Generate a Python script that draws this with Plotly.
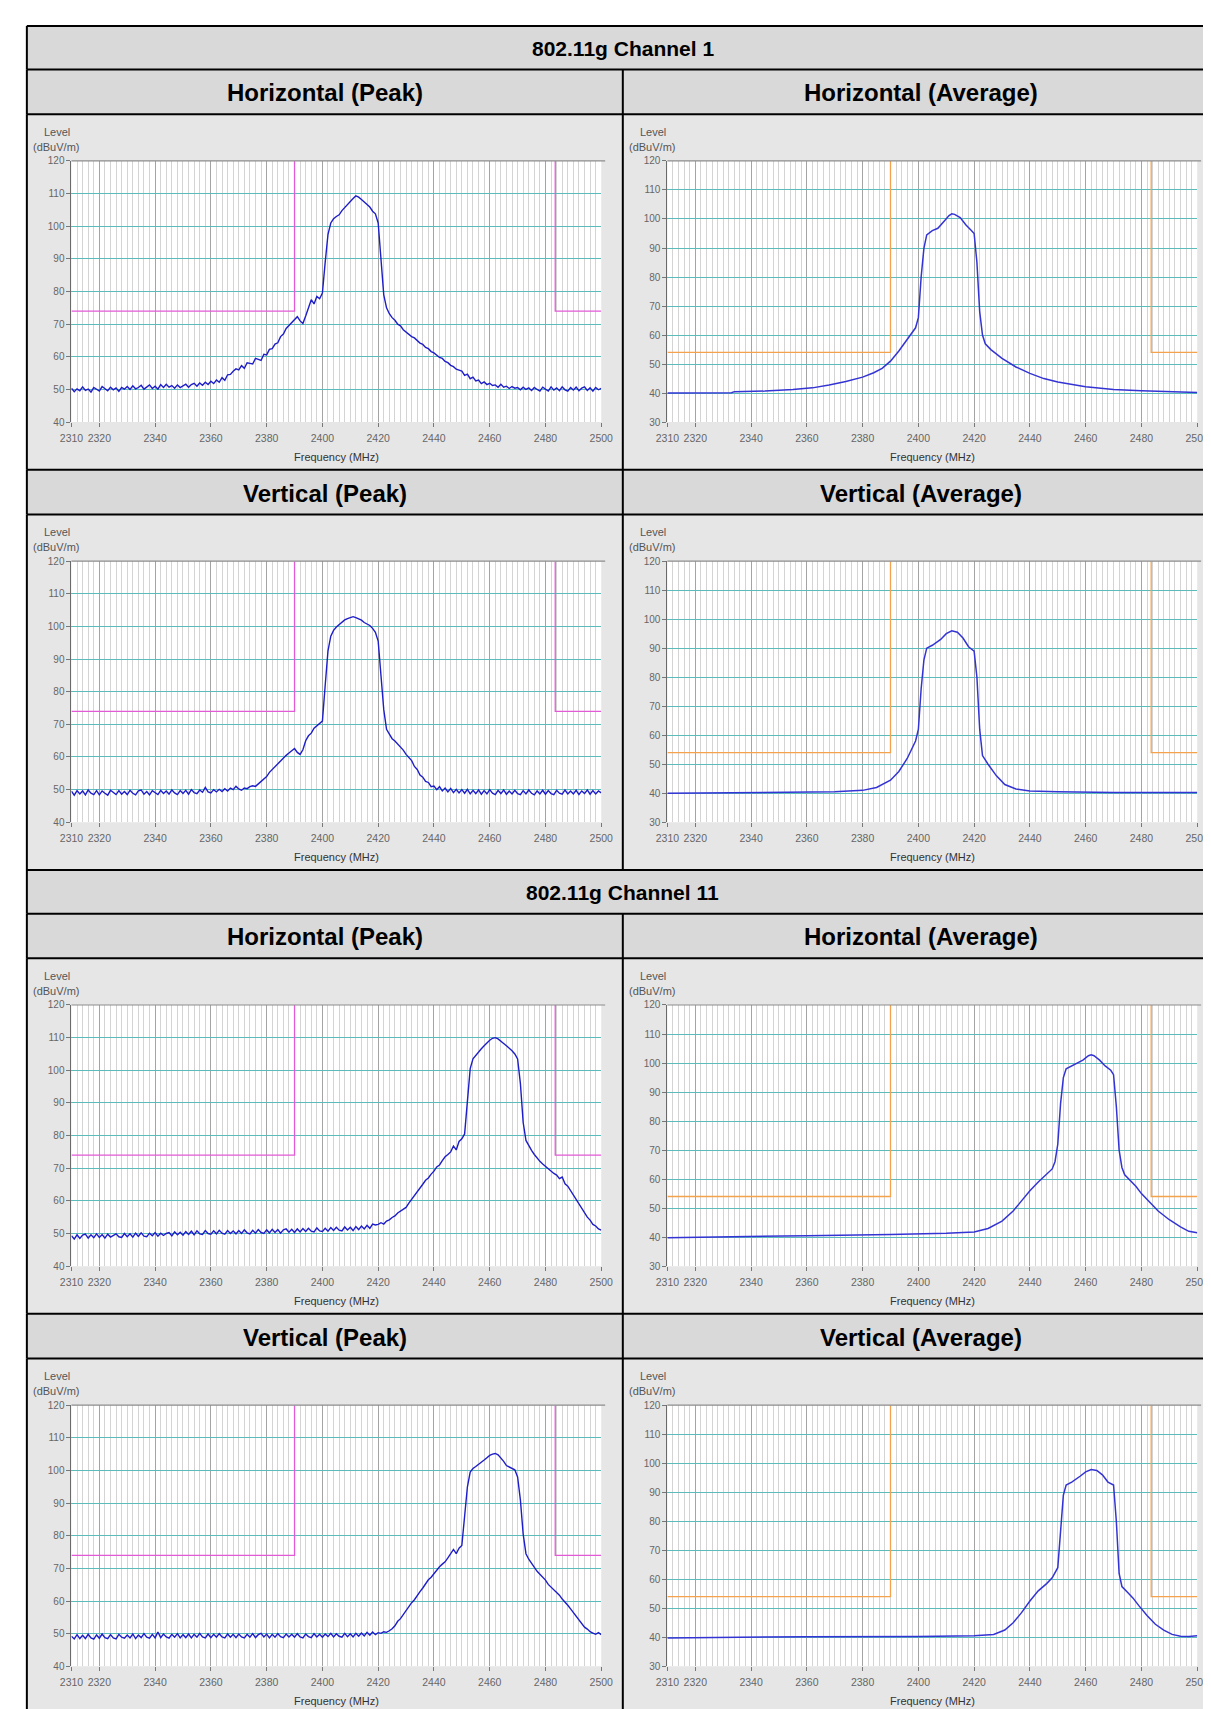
import plotly.graph_objects as go

# ---------------- data ----------------
SWEEP_START_MHZ = 2310
SWEEP_STOP_MHZ = 2500
FREQ = list(range(SWEEP_START_MHZ, SWEEP_STOP_MHZ + 1))  # 1 MHz sweep points of the peak traces

X_TICKS = [2310, 2320, 2340, 2360, 2380, 2400, 2420, 2440, 2460, 2480, 2500]
Y_TICKS_PEAK = [40, 50, 60, 70, 80, 90, 100, 110, 120]
Y_TICKS_AVG = [30, 40, 50, 60, 70, 80, 90, 100, 110, 120]
Y_RANGE_PEAK = [40, 120]
Y_RANGE_AVG = [30, 120]

BAND_EDGE_LOW = 2390
BAND_EDGE_HIGH = 2483.5
PEAK_LIMIT = 74
AVG_LIMIT = 54

CHANNEL_TITLES = ["802.11g Channel 1", "802.11g Channel 11"]
PANEL_TITLES = [["Horizontal (Peak)", "Horizontal (Average)"],
                ["Vertical (Peak)", "Vertical (Average)"]]

CH1_H_PEAK = [
    50.4, 49.3, 50.2, 49.6, 50.8, 49.7, 50.1, 49.2, 50.6, 50.0, 49.5, 50.9, 50.2, 49.6, 50.7, 49.9, 50.5, 49.4, 50.6, 50.1,
    50.9, 50.0, 51.1, 50.2, 50.6, 51.3, 50.1, 50.9, 51.4, 50.3, 51.0, 50.1, 51.5, 50.6, 51.6, 50.7, 51.2, 50.4, 51.4, 50.6,
    51.2, 51.6, 50.7, 51.5, 51.9, 51.0, 52.0, 51.3, 52.2, 51.5, 52.5, 51.8, 52.9, 52.2, 53.6, 52.8, 54.5, 54.6, 55.6, 56.3,
    56.0, 57.3, 56.5, 58.2, 58.0, 57.8, 59.5, 59.3, 58.9, 60.8, 60.6, 62.3, 62.5, 63.9, 64.3, 66.2, 67.0, 68.7, 69.6, 70.8,
    71.5, 72.3, 71.0, 70.2, 72.5, 74.8, 77.5, 76.2, 78.5, 77.8,
    79.5, 89.0, 97.5, 101.0, 102.3, 103.0, 103.5, 104.8, 105.8, 106.6,
    107.5, 108.5, 109.3, 108.9, 108.2, 107.4, 106.8, 105.9, 104.6, 103.8,
    101.0, 90.5, 79.0, 75.0, 73.2, 72.0, 71.2, 70.0, 69.5, 68.3,
    67.6, 67.0, 66.2, 65.8, 64.9, 64.2, 63.8, 62.9, 62.5, 61.6, 61.2, 60.5, 59.8, 59.5, 58.6, 58.2, 57.4, 57.0, 56.2, 55.9,
    55.6, 54.3, 54.7, 53.3, 53.8, 52.6, 52.9, 51.8, 52.3, 51.5, 51.9, 51.2, 51.4, 50.7, 51.6, 50.7, 51.0, 50.3, 50.9, 50.4,
    50.6, 49.9, 50.7, 50.0, 50.5, 49.7, 50.6, 50.0, 49.5, 50.7, 50.1, 49.5, 50.8, 49.8, 50.5, 49.6, 50.8, 49.9, 49.5, 50.6,
    49.8, 50.7, 49.6, 50.4, 50.8, 49.7, 50.5, 49.5, 50.6, 49.9, 50.3,
]

CH1_V_PEAK = [
    49.5, 48.3, 49.7, 48.7, 49.6, 48.4, 49.9, 48.9, 48.5, 49.7, 48.4, 49.6, 48.9, 48.3, 49.8, 49.0, 48.5, 49.7, 48.6, 49.4,
    48.5, 49.8, 48.9, 48.4, 49.6, 49.9, 48.6, 49.4, 48.4, 49.7, 49.0, 48.5, 49.8, 48.8, 49.6, 48.6, 49.9, 49.0, 48.5, 49.7,
    48.8, 49.8, 48.6, 50.0, 49.1, 48.8, 49.9, 49.2, 50.7, 49.3, 49.0, 50.0, 49.3, 50.1, 49.4, 50.3, 49.6, 50.5, 50.0, 51.0,
    50.2, 49.8, 50.5, 50.3, 50.9, 51.2, 51.0, 51.8, 52.5, 53.4, 54.0, 55.3, 56.2, 57.0, 57.9, 58.6, 59.8, 60.5, 61.2, 62.0,
    62.6, 61.4, 60.8, 62.2, 65.0, 66.5, 67.3, 68.8, 69.6, 70.5,
    71.0, 82.0, 92.5, 97.0, 98.8, 99.8, 100.5, 101.3, 102.0, 102.4,
    102.8, 103.0, 102.7, 102.3, 101.9, 101.2, 100.8, 100.3, 99.4, 98.2,
    95.5, 85.0, 74.5, 68.5, 66.8, 65.6, 64.9, 64.0, 62.8, 62.1,
    60.8, 59.7, 58.9, 57.1, 56.2, 54.5, 53.8, 52.5, 52.2, 50.9, 51.1, 50.0, 50.9, 49.6, 50.5, 49.3, 50.4, 49.1, 50.1, 49.0,
    50.0, 48.9, 50.1, 48.7, 49.8, 48.8, 49.9, 48.6, 49.7, 48.7, 50.0, 48.9, 48.5, 49.8, 48.8, 49.9, 48.6, 49.6, 48.7, 49.8,
    48.8, 48.5, 49.7, 48.7, 49.9, 48.9, 48.4, 49.6, 48.7, 49.8, 48.6, 49.7, 48.8, 48.5, 49.8, 48.9, 48.6, 49.9, 48.7, 49.6,
    48.7, 49.8, 48.5, 49.6, 48.8, 49.9, 48.6, 49.7, 48.7, 49.6, 49.0,
]

CH11_H_PEAK = [
    49.3, 48.3, 49.6, 48.5, 49.5, 49.8, 48.6, 49.6, 48.7, 49.9, 48.8, 49.7, 48.6, 49.8, 48.9, 49.3, 49.9, 49.0, 48.8, 50.0,
    49.0, 49.9, 48.9, 50.1, 49.1, 50.2, 49.2, 49.0, 50.1, 49.3, 50.3, 49.2, 50.1, 49.4, 50.0, 50.3, 49.3, 50.5, 49.6, 50.4,
    49.5, 50.6, 49.7, 50.7, 49.6, 50.8, 49.9, 49.7, 50.9, 50.0, 49.8, 50.8, 49.9, 51.0, 50.1, 49.8, 50.9, 50.0, 50.8, 49.9,
    50.9, 50.0, 51.1, 50.2, 49.9, 51.0, 50.1, 51.2, 50.3, 50.0, 51.1, 50.2, 51.3, 50.3, 51.2, 50.1, 51.1, 51.4, 50.4, 51.3,
    50.3, 51.4, 50.5, 51.5, 50.6, 51.6, 50.7, 50.5, 51.7, 50.8,
    50.6, 51.6, 50.7, 51.8, 50.9, 51.9, 51.0, 50.8, 52.0, 51.1,
    51.9, 50.9, 52.1, 51.2, 52.3, 51.4, 52.5, 51.6, 52.9, 52.6,
    52.8, 53.3, 52.9, 53.8, 54.2, 54.9, 55.4, 56.3, 56.8, 57.4,
    58.0, 59.3, 60.4, 61.8, 62.6, 64.0, 65.1, 66.3, 67.0, 68.2, 69.1, 70.4, 71.0, 72.3, 73.5, 74.2, 75.0, 76.8, 75.6, 78.2,
    79.0, 80.5, 92.0, 100.5, 103.5, 104.6, 105.5, 106.6, 107.5, 108.4, 109.2, 109.8, 110.0, 109.6, 109.0, 108.2, 107.5, 106.8, 106.0, 105.0,
    103.5, 96.0, 84.0, 78.5, 76.8, 75.5, 74.2, 73.0, 72.1, 71.3, 70.5, 69.8, 69.0, 68.4, 67.9, 66.8, 67.3, 65.2, 64.5, 63.1,
    61.8, 60.5, 59.2, 57.6, 56.3, 55.0, 54.1, 52.8, 52.3, 51.4, 51.0,
]

CH11_V_PEAK = [
    49.2, 48.4, 49.7, 48.5, 49.5, 48.5, 49.8, 48.7, 48.3, 49.6, 48.6, 49.9, 48.8, 48.5, 49.7, 48.7, 48.4, 49.8, 48.9, 48.6,
    49.6, 48.7, 49.9, 48.5, 49.6, 48.8, 50.0, 48.9, 48.6, 49.8, 48.7, 50.5, 48.8, 49.9, 49.0, 48.6, 49.8, 48.9, 50.0, 48.7,
    49.7, 48.8, 49.9, 48.7, 49.8, 48.9, 50.1, 49.0, 48.7, 49.9, 48.8, 49.8, 48.9, 50.0, 49.0, 48.7, 49.9, 48.9, 49.8, 48.8,
    49.9, 49.0, 48.7, 49.8, 48.9, 50.0, 48.8, 49.7, 50.1, 49.0, 49.9, 48.7, 49.8, 48.9, 50.0, 49.1, 48.8, 49.9, 49.0, 49.8,
    48.9, 50.0, 49.0, 48.7, 49.9, 49.1, 48.8, 50.0, 49.0, 49.8,
    48.9, 49.9, 49.1, 50.1, 49.0, 50.0, 49.2, 48.9, 50.1, 49.1,
    50.0, 49.0, 50.1, 49.2, 50.2, 49.3, 50.4, 49.5, 50.5, 49.7,
    50.3, 50.1, 50.6, 50.4, 50.9, 51.5, 52.4, 53.8, 54.6, 55.9,
    57.0, 58.3, 59.5, 60.4, 61.8, 62.9, 64.0, 65.2, 66.5, 67.3, 68.4, 69.2, 70.5, 71.3, 72.0, 73.2, 74.6, 75.8, 74.5, 76.2,
    77.0, 85.0, 95.0, 99.5, 100.6, 101.2, 101.8, 102.4, 103.2, 103.9, 104.6, 105.0, 105.2, 104.8, 103.9, 102.8, 101.5, 101.0, 100.6, 100.2,
    98.0, 91.0, 80.5, 74.5, 72.8, 71.5, 70.4, 69.1, 68.2, 67.3, 66.4, 65.1, 64.3, 63.6, 62.5, 61.8, 60.6, 59.8, 58.7, 57.6,
    56.5, 55.4, 54.3, 53.2, 52.0, 51.4, 50.6, 50.2, 49.8, 50.3, 49.7,
]

CH1_H_AVG_F = [2310, 2320, 2333, 2334, 2345, 2355, 2362, 2368, 2374, 2380, 2384, 2387, 2390, 2393, 2396, 2398,
               2399, 2400, 2401, 2402, 2403, 2405, 2407, 2409, 2411, 2412, 2413, 2415, 2417, 2419, 2420, 2421,
               2422, 2423, 2424, 2426, 2430, 2435, 2440, 2445, 2450, 2460, 2470, 2480, 2490, 2500]
CH1_H_AVG_L = [40.0, 40.0, 40.1, 40.5, 40.7, 41.2, 41.8, 42.8, 44.0, 45.5, 47.0, 48.5, 51.0, 54.5, 58.5, 61.0,
               62.5, 66.0, 80.0, 90.0, 94.5, 96.0, 96.8, 99.0, 101.2, 101.8, 101.6, 100.5, 98.0, 96.0, 95.0, 85.0,
               68.0, 60.0, 57.0, 55.0, 52.0, 49.0, 46.8, 45.0, 43.8, 42.2, 41.2, 40.8, 40.4, 40.2]

CH1_V_AVG_F = [2310, 2330, 2350, 2370, 2380, 2385, 2390, 2393, 2396, 2398, 2399, 2400, 2401, 2402, 2403, 2405,
               2408, 2410, 2412, 2414, 2416, 2418, 2420, 2421, 2422, 2423, 2425, 2428, 2431, 2435, 2440, 2450,
               2470, 2500]
CH1_V_AVG_L = [40.0, 40.1, 40.3, 40.5, 41.0, 42.0, 44.5, 47.5, 52.0, 56.0, 58.0, 62.0, 76.0, 86.0, 90.0, 91.0,
               93.0, 95.0, 96.0, 95.5, 93.5, 90.5, 89.0, 80.0, 62.0, 53.0, 50.0, 46.0, 43.0, 41.5, 40.8, 40.5,
               40.3, 40.3]

CH11_H_AVG_F = [2310, 2330, 2360, 2390, 2410, 2420, 2425, 2430, 2434, 2437, 2440, 2443, 2446, 2448, 2449, 2450,
                2451, 2452, 2453, 2455, 2457, 2459, 2461, 2462, 2463, 2465, 2467, 2469, 2470, 2471, 2472, 2473,
                2474, 2476, 2478, 2480, 2483, 2486, 2490, 2494, 2497, 2500]
CH11_H_AVG_L = [39.8, 40.0, 40.5, 40.9, 41.3, 41.8, 43.0, 45.5, 49.0, 52.5, 56.0, 59.0, 61.5, 63.5, 66.0, 72.0,
                86.0, 95.0, 98.0, 99.0, 99.8, 101.0, 102.5, 102.8, 102.5, 101.0, 99.0, 97.5, 96.0, 85.0, 70.0, 64.0,
                61.5, 59.5, 57.5, 55.0, 52.0, 49.0, 46.0, 43.5, 42.0, 41.5]

CH11_V_AVG_F = [2310, 2330, 2360, 2400, 2420, 2427, 2431, 2434, 2437, 2440, 2443, 2446, 2448, 2450, 2451, 2452,
                2453, 2455, 2458, 2460, 2462, 2464, 2466, 2468, 2470, 2471, 2472, 2473, 2475, 2477, 2479, 2482,
                2485, 2488, 2491, 2494, 2497, 2500]
CH11_V_AVG_L = [39.8, 40.0, 40.2, 40.3, 40.5, 41.0, 42.5, 45.0, 48.5, 52.5, 56.0, 58.5, 60.5, 64.0, 78.0, 89.0,
                92.5, 93.5, 95.5, 97.0, 97.8, 97.5, 96.0, 93.5, 92.5, 80.0, 62.0, 57.5, 55.5, 53.5, 51.0, 47.5,
                44.5, 42.5, 41.0, 40.4, 40.3, 40.5]

PEAK_DATA = [[CH1_H_PEAK, CH1_V_PEAK], [CH11_H_PEAK, CH11_V_PEAK]]
AVG_DATA = [[(CH1_H_AVG_F, CH1_H_AVG_L), (CH1_V_AVG_F, CH1_V_AVG_L)],
            [(CH11_H_AVG_F, CH11_H_AVG_L), (CH11_V_AVG_F, CH11_V_AVG_L)]]

# ---------------- geometry / style ----------------
W, H = 1211, 1709
X_LEFT, X_MID, X_RIGHT = 7, 615, 1223
TOP = 12
TITLE_H, HEAD_H, PLOT_H = 44, 45, 358
PA_X0, PA_X1 = 45.5, 586      # plot-area offsets inside a cell
PA_Y0, PA_Y1 = 47, 310

HEAD_BG = "#d9d9d9"
CELL_BG = "#e6e6e6"
BORDER = "#000000"
TRACE = "#1e1ec8"
TRACE_AVG = "#3434d4"
PEAK_LIM_COLOR = "#e25ad6"
AVG_LIM_COLOR = "#f4a24c"
FONT = "Liberation Sans, Arial, sans-serif"


def fx(x):
    return x / W


def fy(y):
    return 1 - y / H


fig = go.Figure()
shapes = []
annotations = []


def rect(x0, y0, x1, y1, color):
    shapes.append(dict(type="rect", xref="paper", yref="paper", x0=fx(x0), x1=fx(x1),
                       y0=fy(y1), y1=fy(y0), fillcolor=color, line=dict(width=0), layer="below"))


def hline(x0, x1, y, color=BORDER, width=2):
    shapes.append(dict(type="line", xref="paper", yref="paper", x0=fx(x0), x1=fx(x1),
                       y0=fy(y), y1=fy(y), line=dict(color=color, width=width), layer="above"))


def vline(x, y0, y1, color=BORDER, width=2):
    shapes.append(dict(type="line", xref="paper", yref="paper", x0=fx(x), x1=fx(x),
                       y0=fy(y0), y1=fy(y1), line=dict(color=color, width=width), layer="above"))


def text(x, y, s, size, color="#000", bold=False, xanchor="center"):
    annotations.append(dict(xref="paper", yref="paper", x=fx(x), y=fy(y), text=("<b>%s</b>" % s) if bold else s,
                            showarrow=False, xanchor=xanchor, yanchor="middle",
                            font=dict(family=FONT, size=size, color=color)))


layout_axes = {}
panel = 0
y = TOP
hline(X_LEFT, X_RIGHT, y)
for ch in range(2):
    rect(X_LEFT, y, X_RIGHT, y + TITLE_H, HEAD_BG)
    text(X_MID, y + TITLE_H / 2 + 1, CHANNEL_TITLES[ch], 21, bold=True)
    vline(X_LEFT, y, y + TITLE_H)
    y += TITLE_H
    hline(X_LEFT, X_RIGHT, y)
    for pol in range(2):
        rect(X_LEFT, y, X_RIGHT, y + HEAD_H, HEAD_BG)
        for col, (c0, c1) in enumerate([(X_LEFT, X_MID), (X_MID, X_RIGHT)]):
            text((c0 + c1) / 2, y + HEAD_H / 2 + 1, PANEL_TITLES[pol][col], 24, bold=True)
        vline(X_LEFT, y, y + HEAD_H)
        vline(X_MID, y, y + HEAD_H)
        y += HEAD_H
        hline(X_LEFT, X_RIGHT, y)
        for col, (c0, c1) in enumerate([(X_LEFT, X_MID), (X_MID, X_RIGHT)]):
            panel += 1
            rect(c0, y, c1, y + PLOT_H, CELL_BG)
            ax0, ax1 = c0 + PA_X0, c0 + PA_X1
            ay0, ay1 = y + PA_Y0, y + PA_Y1
            rect(ax0, ay0, ax1, ay1, "#ffffff")
            hline(ax0, ax1 + 4, ay0, color="#8c8c8c", width=1.2)
            text(c0 + 15, y + 18, "Level", 11, color="#555", xanchor="left")
            text(c0 + 4, y + 33, "(dBuV/m)", 11, color="#555", xanchor="left")
            text((ax0 + ax1) / 2, y + 345, "Frequency (MHz)", 11, color="#333")

            is_peak = col == 0
            yr = Y_RANGE_PEAK if is_peak else Y_RANGE_AVG
            yt = Y_TICKS_PEAK if is_peak else Y_TICKS_AVG
            xa = "x%d" % panel
            ya = "y%d" % panel
            layout_axes["xaxis%d" % panel] = dict(
                domain=[fx(ax0), fx(ax1)], range=[SWEEP_START_MHZ, SWEEP_STOP_MHZ], anchor=ya,
                tickmode="array", tickvals=X_TICKS, ticktext=[str(v) for v in X_TICKS],
                showgrid=True, gridcolor="#a4a4a4", gridwidth=1,
                minor=dict(tick0=SWEEP_START_MHZ, dtick=2, showgrid=True, gridcolor="#d4d4d4", gridwidth=1),
                showline=False, zeroline=False, ticks="outside", ticklen=4, tickcolor="#777",
                tickangle=0, ticklabelstandoff=2,
                tickfont=dict(family=FONT, size=10.5, color="#666"), fixedrange=True)
            layout_axes["yaxis%d" % panel] = dict(
                domain=[fy(ay1), fy(ay0)], range=yr, anchor=xa,
                tickmode="array", tickvals=yt, showgrid=True, gridcolor="#5cbcbc", gridwidth=1.2,
                showline=True, linecolor="#6a6a6a", linewidth=1, zeroline=False,
                ticks="outside", ticklen=4, tickcolor="#777",
                tickfont=dict(family=FONT, size=10, color="#666"), fixedrange=True)

            if is_peak:
                lim = PEAK_LIMIT
                lc = PEAK_LIM_COLOR
                fig.add_trace(go.Scatter(x=FREQ, y=PEAK_DATA[ch][pol], mode="lines",
                                         line=dict(color=TRACE, width=1.4), xaxis=xa, yaxis=ya,
                                         showlegend=False, hoverinfo="skip"))
            else:
                lim = AVG_LIMIT
                lc = AVG_LIM_COLOR
                af, al = AVG_DATA[ch][pol]
                fig.add_trace(go.Scatter(x=af, y=al, mode="lines",
                                         line=dict(color=TRACE_AVG, width=1.5), xaxis=xa, yaxis=ya,
                                         showlegend=False, hoverinfo="skip"))
            fig.add_trace(go.Scatter(x=[SWEEP_START_MHZ, BAND_EDGE_LOW, BAND_EDGE_LOW], y=[lim, lim, yr[1]],
                                     mode="lines", line=dict(color=lc, width=1.3), xaxis=xa, yaxis=ya,
                                     showlegend=False, hoverinfo="skip"))
            fig.add_trace(go.Scatter(x=[BAND_EDGE_HIGH, BAND_EDGE_HIGH, SWEEP_STOP_MHZ], y=[yr[1], lim, lim],
                                     mode="lines", line=dict(color=lc, width=1.3), xaxis=xa, yaxis=ya,
                                     showlegend=False, hoverinfo="skip"))
        vline(X_LEFT, y, y + PLOT_H)
        vline(X_MID, y, y + PLOT_H)
        y += PLOT_H
        hline(X_LEFT, X_RIGHT, y)

fig.update_layout(
    width=W, height=H, autosize=False,
    margin=dict(l=0, r=0, t=0, b=0),
    paper_bgcolor="#ffffff", plot_bgcolor="#ffffff",
    shapes=shapes, annotations=annotations, showlegend=False,
    **layout_axes,
)

fig.write_html("out.html")
